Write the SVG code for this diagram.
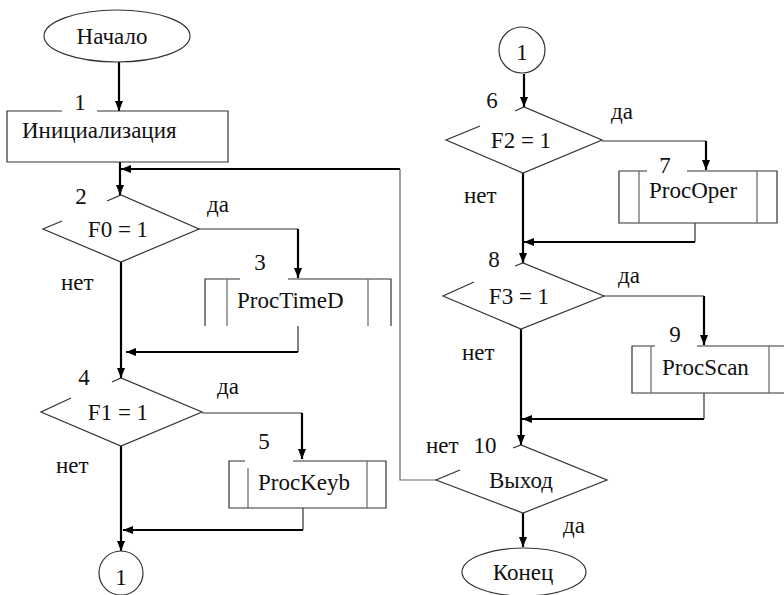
<svg xmlns="http://www.w3.org/2000/svg" width="784" height="595" viewBox="0 0 784 595">
  <defs>
    <marker id="arrow" markerUnits="userSpaceOnUse" markerWidth="10" markerHeight="10" viewBox="0 0 10 10" refX="10" refY="5" orient="auto">
      <path d="M0,1 L10,5 L0,9 Z" fill="#000"/>
    </marker>
  </defs>
  <style>
    .shape { fill: none; stroke: #333; stroke-width: 1.2; }
    .inner { fill: none; stroke: #666; stroke-width: 1.2; }
    .thick { fill: none; stroke: #000; stroke-width: 2.2; }
    .thin { fill: none; stroke: #333; stroke-width: 1.2; }
    .grey { fill: none; stroke: #666; stroke-width: 1.2; }
    text { font-family: "Liberation Serif", "Times New Roman", serif; font-size: 23px; fill: #111; }
    .mid { text-anchor: middle; }
  </style>
  <rect width="784" height="595" fill="#fff"/>

  <!-- connectors -->
  <g id="connectors">
    <!-- left column -->
    <path class="thick" d="M119,62 V111" marker-end="url(#arrow)"/>
    <path class="thick" d="M120,162 V195" marker-end="url(#arrow)"/>
    <path class="thick" d="M400,169 H121" marker-end="url(#arrow)"/>
    <path class="grey" d="M436,480 H400 V169"/>
    <path class="thin" d="M199,229 H298"/>
    <path class="thick" d="M298,229 V278" marker-end="url(#arrow)"/>
    <path class="thin" d="M298,326 V352"/>
    <path class="thick" d="M298,352 H126" marker-end="url(#arrow)"/>
    <path class="thick" d="M121,262 V378" marker-end="url(#arrow)"/>
    <path class="thin" d="M202,413 H302"/>
    <path class="thick" d="M302,413 V459" marker-end="url(#arrow)"/>
    <path class="thin" d="M303,508 V530"/>
    <path class="thick" d="M303,530 H123" marker-end="url(#arrow)"/>
    <path class="thick" d="M121,446 V551" marker-end="url(#arrow)"/>
    <!-- right column -->
    <path class="thick" d="M524,74 V107" marker-end="url(#arrow)"/>
    <path class="thin" d="M602,141 H706"/>
    <path class="thick" d="M706,141 V170" marker-end="url(#arrow)"/>
    <path class="thin" d="M695,223 V242"/>
    <path class="thick" d="M695,242 H524" marker-end="url(#arrow)"/>
    <path class="thick" d="M523,173 V263" marker-end="url(#arrow)"/>
    <path class="thin" d="M604,296 H704"/>
    <path class="thick" d="M704,296 V345" marker-end="url(#arrow)"/>
    <path class="thin" d="M704,393 V419"/>
    <path class="thick" d="M704,419 H522" marker-end="url(#arrow)"/>
    <path class="thick" d="M521,329 V445" marker-end="url(#arrow)"/>
    <path class="thick" d="M523,513 V547" marker-end="url(#arrow)"/>
  </g>

  <!-- start -->
  <g id="start">
    <ellipse class="shape" cx="117" cy="36" rx="73" ry="26"/>
    <text x="112" y="44" class="mid">Начало</text>
  </g>

  <!-- 1: initialisation -->
  <g id="init">
    <path class="shape" d="M62,111 H7 V162 H228 V111 H97"/>
    <text x="80" y="110" class="mid">1</text>
    <text x="22" y="138">Инициализация</text>
  </g>

  <!-- 2: F0 = 1 -->
  <g id="f0">
    <path class="shape" d="M62,221 L43,229 L121,262 L199,229 L121,195 L107,201"/>
    <text x="81" y="204" class="mid">2</text>
    <text x="118" y="237" class="mid">F0 = 1</text>
    <text x="207" y="212">да</text>
    <text x="61" y="290">нет</text>
  </g>

  <!-- 3: ProcTimeD -->
  <g id="proctimed">
    <path class="shape" d="M205,326 V279 H240 M288,279 H391 V326"/>
    <path class="inner" d="M227,279 V326 M368,279 V326"/>
    <text x="260" y="270" class="mid">3</text>
    <text x="237" y="308">ProcTimeD</text>
  </g>

  <!-- 4: F1 = 1 -->
  <g id="f1">
    <path class="shape" d="M71,398 L41,412 L121,446 L202,412 L121,378 L112,382"/>
    <text x="84" y="385" class="mid">4</text>
    <text x="118" y="420" class="mid">F1 = 1</text>
    <text x="217" y="394">да</text>
    <text x="56" y="473">нет</text>
  </g>

  <!-- 5: ProcKeyb -->
  <g id="prockeyb">
    <path class="shape" d="M245,461 H229 V508 H386 V461 H293"/>
    <path class="inner" d="M248,468 V508 M367,461 V508"/>
    <text x="264" y="449" class="mid">5</text>
    <text x="258" y="490">ProcKeyb</text>
  </g>

  <!-- off-page connector (left) -->
  <g id="conn-out">
    <circle class="shape" cx="121" cy="573" r="22"/>
    <text x="121" y="585" class="mid">1</text>
  </g>

  <!-- off-page connector (right) -->
  <g id="conn-in">
    <circle class="shape" cx="522" cy="50" r="23"/>
    <text x="522" y="60" class="mid">1</text>
  </g>

  <!-- 6: F2 = 1 -->
  <g id="f2">
    <path class="shape" d="M480,126 L446,140 L523,173 L602,140 L524,107 L515,111"/>
    <text x="492" y="108" class="mid">6</text>
    <text x="521" y="148" class="mid">F2 = 1</text>
    <text x="611" y="119">да</text>
    <text x="464" y="203">нет</text>
  </g>

  <!-- 7: ProcOper -->
  <g id="procoper">
    <path class="shape" d="M647,171 H619 V223 H777 V171 H687"/>
    <path class="inner" d="M639,171 V223 M757,171 V223"/>
    <text x="665" y="173" class="mid">7</text>
    <text x="649" y="198">ProcOper</text>
  </g>

  <!-- 8: F3 = 1 -->
  <g id="f3">
    <path class="shape" d="M474,282 L443,296 L521,329 L604,296 L523,263 L515,266"/>
    <text x="494" y="267" class="mid">8</text>
    <text x="519" y="304" class="mid">F3 = 1</text>
    <text x="618" y="283">да</text>
    <text x="462" y="360">нет</text>
  </g>

  <!-- 9: ProcScan -->
  <g id="procscan">
    <path class="shape" d="M655,346 H632 V393 H790 M697,346 H790"/>
    <path class="inner" d="M651,346 V393 M769,346 V393"/>
    <text x="675" y="342" class="mid">9</text>
    <text x="662" y="375">ProcScan</text>
  </g>

  <!-- 10: exit check -->
  <g id="exit">
    <path class="shape" d="M460,470 L436,480 L523,513 L607,480 L521,445 L513,448"/>
    <text x="485" y="453" class="mid">10</text>
    <text x="426" y="453">нет</text>
    <text x="521" y="488" class="mid">Выход</text>
    <text x="563" y="533">да</text>
  </g>

  <!-- end -->
  <g id="end">
    <ellipse class="shape" cx="524" cy="572" rx="62" ry="24"/>
    <text x="523" y="580" class="mid">Конец</text>
  </g>
</svg>
